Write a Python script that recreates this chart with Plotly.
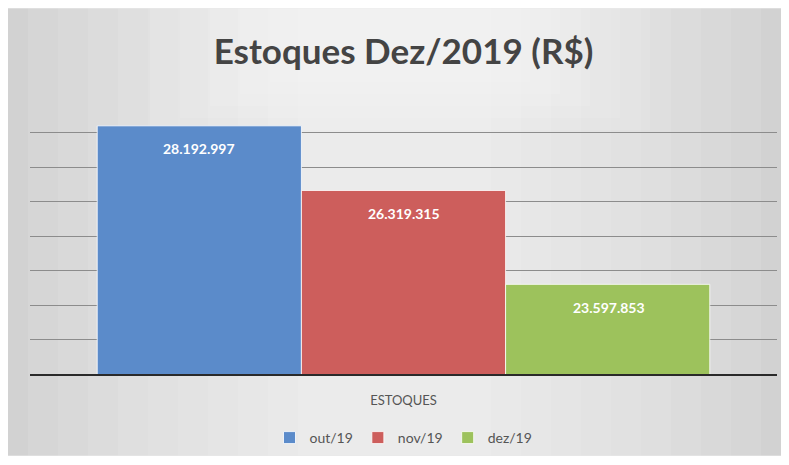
import plotly.graph_objects as go

categories = ["ESTOQUES"]
series_names = ["out/19", "nov/19", "dez/19"]
values = [28192997, 26319315, 23597853]
labels = ["28.192.997", "26.319.315", "23.597.853"]
colors = ["#5B8BCA", "#CD5E5C", "#9DC25C"]

W, H = 789, 465
L, R, T, B = 30, 12, 98, 90
pw, ph = W - L - R, H - T - B

def px_x(p):
    return (p - L) / pw

def px_y(p):
    return (H - B - p) / ph

fig = go.Figure()
for name, v, lab, c in zip(series_names, values, labels, colors):
    fig.add_trace(go.Bar(
        x=categories, y=[v], name=name,
        marker=dict(color=c, line=dict(color="rgba(255,255,255,0.8)", width=1)),
        text=[lab], textposition="none", hoverinfo="skip",
    ))

# value labels near bar tops
for i, (v, lab) in enumerate(zip(values, labels)):
    fig.add_annotation(
        x=categories[0], y=v, text="<b>" + lab + "</b>", showarrow=False,
        xshift=(i - 1) * 205, yshift=-23,
        font=dict(family="Lato, Open Sans, sans-serif", size=14, color="white"),
    )

shapes = []
# frame background
shapes.append(dict(type="rect", xref="paper", yref="paper", layer="below",
                   x0=px_x(8), x1=px_x(781), y0=px_y(457), y1=px_y(8),
                   fillcolor="#D2D2D2", line=dict(width=0)))
# horizontal light gradient towards center
for k in range(10):
    inset = 20 + k * 30
    shapes.append(dict(type="rect", xref="paper", yref="paper", layer="below",
                       x0=px_x(8 + inset), x1=px_x(781 - inset),
                       y0=px_y(457), y1=px_y(8),
                       fillcolor="rgba(255,255,255,0.09)", line=dict(width=0)))
for k in range(5):
    shapes.append(dict(type="rect", xref="paper", yref="paper", layer="below",
                       x0=px_x(150 + k * 30), x1=px_x(650 - k * 30),
                       y0=px_y(130 - k * 12), y1=px_y(8),
                       fillcolor="rgba(255,255,255,0.10)", line=dict(width=0)))
fig.update_layout(shapes=shapes)

fig.update_layout(
    width=W, height=H,
    margin=dict(l=L, r=R, t=T, b=B, pad=0),
    paper_bgcolor="white",
    plot_bgcolor="rgba(0,0,0,0)",
    barmode="group", bargap=0.18, bargroupgap=0.0,
    title=dict(text="<b>Estoques Dez/2019 (R$)</b>", x=0.5, xref="paper",
               y=1 - 52 / H, yanchor="middle",
               font=dict(family="Lato, Open Sans, sans-serif", size=35, color="#444444")),
    xaxis=dict(showgrid=False, showline=True, linecolor="#2A2A2A", linewidth=2,
               tickfont=dict(family="Lato, Open Sans, sans-serif", size=13, color="#555555"),
               ticks="", ticklabelstandoff=13),
    yaxis=dict(range=[21000000, 29000000], dtick=1000000, showticklabels=False,
               showgrid=True, gridcolor="#8C8C8C", gridwidth=1, zeroline=False,
               showline=False),
    showlegend=True,
    legend=dict(orientation="h", x=0.5, xanchor="center", y=px_y(438), yanchor="middle",
                font=dict(family="Lato, Open Sans, sans-serif", size=14, color="#555555"),
                bgcolor="rgba(0,0,0,0)", itemwidth=30),
    font=dict(family="Lato, Open Sans, sans-serif"),
)

fig.write_html("out.html", config={"displayModeBar": False},
               post_script="document.body.style.margin='0';")
